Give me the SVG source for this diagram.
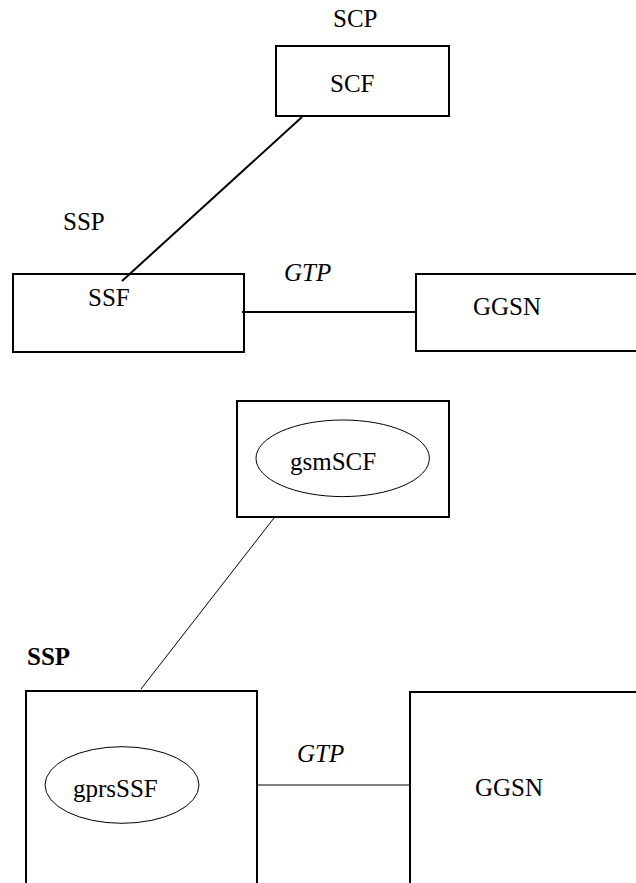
<svg xmlns="http://www.w3.org/2000/svg" width="636" height="883" viewBox="0 0 636 883">
<style>
text{font-family:"Liberation Serif","Times New Roman",serif;font-size:25px;fill:#000}
.it{font-style:italic}
.b{font-weight:bold}
.box{fill:none;stroke:#000;stroke-width:2}
.ell{fill:none;stroke:#000;stroke-width:1}
.thick{stroke:#000;stroke-width:2;fill:none}
.thin{stroke:#000;stroke-width:1;fill:none}
</style>
<rect width="636" height="883" fill="#fff"/>
<g id="connectors">
<line class="thick" x1="302" y1="117" x2="122" y2="281"/>
<line class="thick" x1="242" y1="312" x2="416" y2="312"/>
<line class="thin" x1="274" y1="518" x2="141" y2="689"/>
<line class="thin" x1="257" y1="785" x2="410" y2="785"/>
</g>
<g id="labels">
<text x="333" y="27">SCP</text>
<text x="63" y="230">SSP</text>
<text class="it" x="284" y="281">GTP</text>
<text class="b" x="27" y="665">SSP</text>
<text class="it" x="297" y="762">GTP</text>
</g>
<g id="scf">
<rect class="box" x="276" y="46" width="173" height="70"/>
<text x="330" y="92">SCF</text>
</g>
<g id="ssf">
<rect class="box" x="13" y="274" width="231" height="78"/>
<text x="88" y="306">SSF</text>
</g>
<g id="ggsn-top">
<path class="box" d="M640 274 H416 V351 H640"/>
<text x="473" y="315">GGSN</text>
</g>
<g id="gsmscf">
<rect class="box" x="237" y="401" width="212" height="116"/>
<ellipse class="ell" cx="342.7" cy="458.3" rx="86.7" ry="38.3"/>
<text x="290" y="470">gsmSCF</text>
</g>
<g id="gprsssf">
<path class="box" d="M26 890 V691 H257 V890"/>
<ellipse class="ell" cx="122" cy="785" rx="77" ry="38.3"/>
<text x="73" y="797">gprsSSF</text>
</g>
<g id="ggsn-bottom">
<path class="box" d="M640 692 H410 V890"/>
<text x="475" y="796">GGSN</text>
</g>
</svg>
